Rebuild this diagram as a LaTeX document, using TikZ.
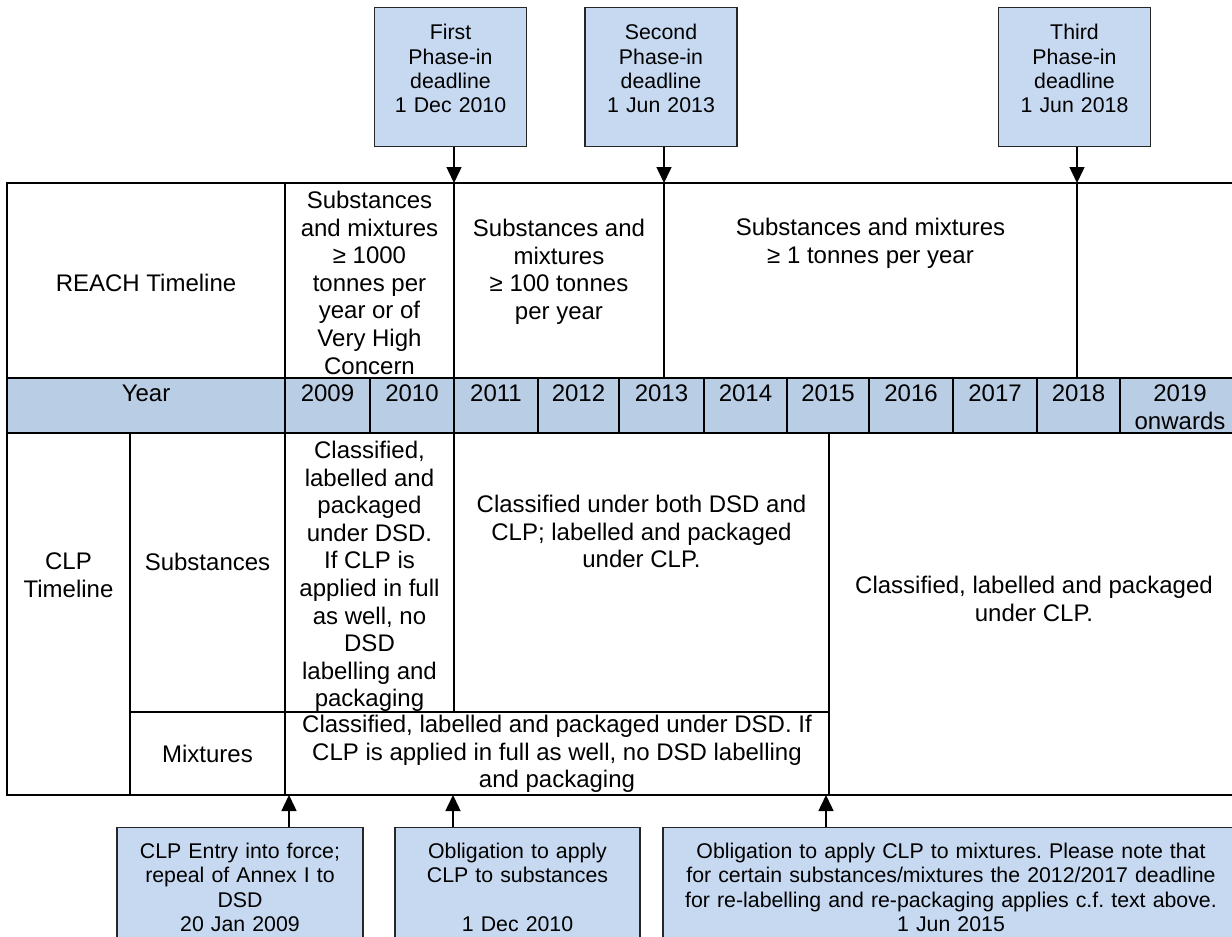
\documentclass[tikz,border=0pt]{standalone}
\usepackage{fontspec}
\setmainfont{Liberation Sans}
\usetikzlibrary{arrows.meta,positioning}
\frenchspacing
\definecolor{boxblue}{HTML}{C6D9F1}
\definecolor{yearblue}{HTML}{B9CDE5}
\newcommand{\tabfont}{\fontsize{24}{27.6}\selectfont}
\newcommand{\boxfont}{\fontsize{21.3}{24.4}\selectfont}

\begin{document}
\begin{tikzpicture}[x=1pt,y=-1pt,
  grid/.style={line width=2pt},
  cell/.style={font=\tabfont,align=center,inner sep=0pt,anchor=north},
  phase/.style={draw=black!85,fill=boxblue,line width=1.2pt,font=\boxfont,align=center,
    text width=144pt,inner xsep=4pt,inner ysep=6pt,text height=26pt,text depth=101pt,anchor=north},
  duty/.style={draw=black!85,fill=boxblue,line width=1.2pt,font=\boxfont,align=center,
    inner xsep=4pt,inner ysep=15.5pt,anchor=north},
  link/.style={line width=1.5pt,-{Triangle[length=16pt,width=15pt]}}]
\path[use as bounding box,fill=white] (0,0) rectangle (1232,937);
\clip (0,0) rectangle (1232,937);

% table grid
\fill[yearblue] (7,378) rectangle (1240,433);
\draw[grid] (7,183) rectangle (1240,795);
\draw[grid] (7,378) -- (1240,378) (7,433) -- (1240,433) (130,712) -- (829,712);
\draw[grid] (285,183) -- (285,795) (454,183) -- (454,712) (130,433) -- (130,795)
  (829,433) -- (829,795) (664,183) -- (664,378) (1077,183) -- (1077,378);
\foreach \x in {370,538,619,704,787,869,953,1037,1120}
  \draw[grid] (\x,378) -- (\x,433);

% REACH row
\node[cell] (reach) at (146,274) {REACH Timeline};
\node[cell] (t1000) at (369.5,191) {Substances\\and mixtures\\≥ 1000\\tonnes per\\year or of\\Very High\\Concern};
\node[cell] (t100) at (559,219) {Substances and\\mixtures\\≥ 100 tonnes\\per year};
\node[cell] (t1) at (870.5,218) {Substances and mixtures\\≥ 1 tonnes per year};

% years
\node[cell] (year) at (146,385) {Year};
\foreach \x/\yr in {327.5/2009,412/2010,496/2011,578.5/2012,661.5/2013,745.5/2014,828/2015,911/2016,995/2017,1078.5/2018}
  \node[cell] (y\yr) at (\x,385) {\yr};
\node[cell] (y2019) at (1180,385) {2019\\onwards};

% CLP rows
\node[cell] (clp) at (68.5,553) {CLP\\Timeline};
\node[cell] (subst) at (207.5,553) {Substances};
\node[cell] (mixt) at (207.5,745) {Mixtures};
\node[cell] (dsd) at (369.5,441) {Classified,\\labelled and\\packaged\\under DSD.\\If CLP is\\applied in full\\as well, no\\DSD\\labelling and\\packaging};
\node[cell] (both) at (641.5,495) {Classified under both DSD and\\CLP; labelled and packaged\\under CLP.};
\node[cell] (mixdsd) at (557,715) {Classified, labelled and packaged under DSD. If\\CLP is applied in full as well, no DSD labelling\\and packaging};
\node[cell] (clponly) at (1034,576) {Classified, labelled and packaged\\under CLP.};

% deadlines
\node[phase] (first) at (450.5,7) {First\\Phase-in\\deadline\\1 Dec 2010};
\node[phase] (second) at (661,7) {Second\\Phase-in\\deadline\\1 Jun 2013};
\node[phase] (third) at (1074.5,7) {Third\\Phase-in\\deadline\\1 Jun 2018};
\node[duty,text width=238pt] (entry) at (240,827) {CLP Entry into force;\\repeal of Annex I to\\DSD\\20 Jan 2009};
\node[duty,text width=237pt] (subsduty) at (517.5,827) {Obligation to apply\\CLP to substances\\~\\1 Dec 2010};
\node[duty,text width=568pt] (mixduty) at (951,827) {Obligation to apply CLP to mixtures. Please note that\\for certain substances/mixtures the 2012/2017 deadline\\for re-labelling and re-packaging applies c.f. text above.\\1 Jun 2015};

\coordinate (d1) at (454,183);
\coordinate (d2) at (664,183);
\coordinate (d3) at (1077,183);
\coordinate (o1) at (289,795);
\coordinate (o2) at (453,795);
\coordinate (o3) at (826,795);
\draw[link] (first.south -| d1) -- (d1);
\draw[link] (second.south -| d2) -- (d2);
\draw[link] (third.south -| d3) -- (d3);
\draw[link] (entry.north -| o1) -- (o1);
\draw[link] (subsduty.north -| o2) -- (o2);
\draw[link] (mixduty.north -| o3) -- (o3);
\end{tikzpicture}
\end{document}
